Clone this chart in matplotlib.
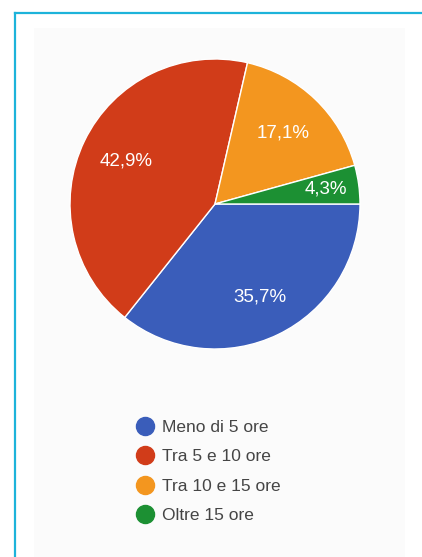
import numpy as np
import matplotlib
matplotlib.use('Agg')
import matplotlib.pyplot as plt
from matplotlib.lines import Line2D
from matplotlib.patches import Rectangle

# Data
categories = ['Meno di 5 ore', 'Tra 5 e 10 ore', 'Tra 10 e 15 ore', 'Oltre 15 ore']
values = [35.7, 42.9, 17.1, 4.3]
labels = ['35,7%', '42,9%', '17,1%', '4,3%']
colors = ['#3a5dba', '#d13c19', '#f3961f', '#1c9033']
label_dist = [0.71, 0.68, 0.68, 0.77]

plt.rcParams['font.family'] = ['Liberation Sans', 'DejaVu Sans']

fig = plt.figure(figsize=(4.22, 5.57), dpi=100)
fig.patch.set_facecolor('white')

W, H = 422, 557
# light panel behind the chart
fig.patches.append(Rectangle((34 / W, 0), (405 - 34) / W, 1 - 28 / H,
                             transform=fig.transFigure, facecolor='#fbfbfb',
                             edgecolor='none', zorder=-5))
# cyan frame (top and left)
fig.lines.append(Line2D([15 / W, 1], [1 - 12.5 / H, 1 - 12.5 / H], transform=fig.transFigure,
                        color='#1db3da', linewidth=1.6, zorder=-4))
fig.lines.append(Line2D([15.5 / W, 15.5 / W], [0, 1 - 12.5 / H], transform=fig.transFigure,
                        color='#1db3da', linewidth=1.6, zorder=-4))

# pie axes: centre (215, 204) px, radius 145 px
cx, cy, r = 215, 204, 145
ax = fig.add_axes([(cx - r) / W, 1 - (cy + r) / H, 2 * r / W, 2 * r / H])
ax.set_zorder(2)
ax.set_facecolor('none')
wedges, _ = ax.pie(values, colors=colors, startangle=0, counterclock=False,
                   wedgeprops=dict(edgecolor='white', linewidth=1.0))
ax.set_xlim(-1, 1)
ax.set_ylim(-1, 1)
ax.axis('off')

for w, lab, d in zip(wedges, labels, label_dist):
    ang = np.deg2rad((w.theta1 + w.theta2) / 2)
    ax.text(d * np.cos(ang), d * np.sin(ang), lab, color='white', fontsize=13.5,
            ha='center', va='center')

# legend
handles = [Line2D([], [], marker='o', linestyle='', markersize=13,
                  markerfacecolor=c, markeredgecolor=c) for c in colors]
leg = fig.legend(handles, categories, loc='upper left',
                 bbox_to_anchor=(128 / W, 1 - 413 / H), frameon=False,
                 fontsize=12.5, labelspacing=0.82, handletextpad=0.35,
                 handlelength=1.2, borderaxespad=0)
leg.set_zorder(3)
for t in leg.get_texts():
    t.set_color('#454545')

fig.savefig('out.png', dpi=100, facecolor=fig.get_facecolor())
